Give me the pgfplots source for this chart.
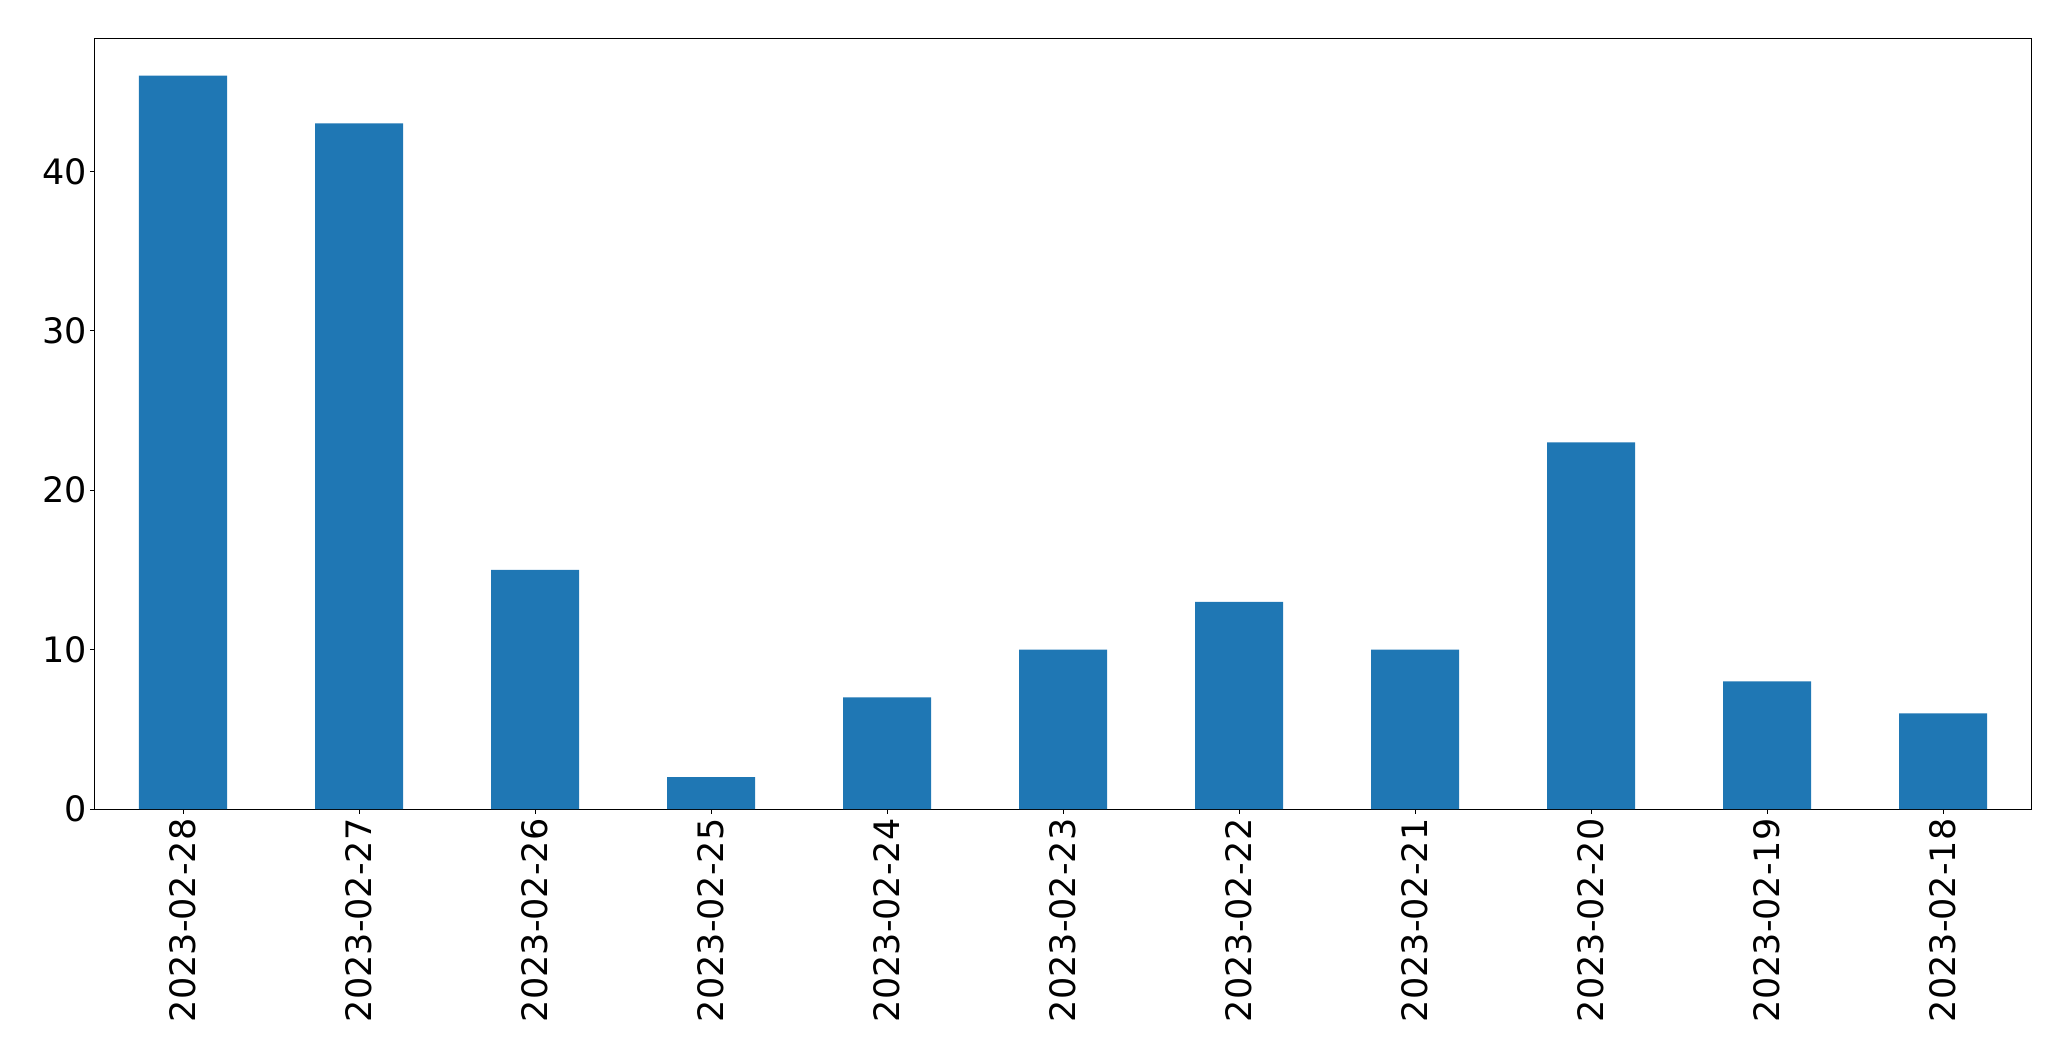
\documentclass[border=0pt]{standalone}
\usepackage{pgfplots}
\pgfplotsset{compat=1.18}
\usepackage{fontspec}
\setmainfont{DejaVu Sans}
\usetikzlibrary{calc}
\definecolor{mplblue}{HTML}{1F77B4}

\begin{document}
\begin{tikzpicture}
\begin{axis}[
    scale only axis,
    width=968pt, height=385pt,
    xmin=-0.5, xmax=10.5,
    ymin=0, ymax=48.3,
    ytick={0,10,20,30,40},
    xtick={0,...,10},
    xticklabels={2023-02-28,2023-02-27,2023-02-26,2023-02-25,2023-02-24,2023-02-23,2023-02-22,2023-02-21,2023-02-20,2023-02-19,2023-02-18},
    xticklabel style={rotate=90, anchor=east, inner sep=2.2pt},
    yticklabel style={inner sep=1.5pt},
    tick label style={font=\fontsize{17.5}{21}\selectfont},
    /pgf/number format/assume math mode=true,
    tick align=outside,
    major tick length=2.4pt,
    tick style={black, line width=0.4pt},
    xtick pos=bottom, ytick pos=left,
    axis line style={line width=0.5pt},
    ybar, bar width=0.5,
]
\addplot[fill=mplblue, draw=none] coordinates {
    (0,46)(1,43)(2,15)(3,2)(4,7)(5,10)(6,13)(7,10)(8,23)(9,8)(10,6)
};
\end{axis}
\useasboundingbox ($(current axis.south west)+(-47.5pt,-126pt)$) rectangle ($(current axis.north east)+(20pt,19.5pt)$);
\end{tikzpicture}
\end{document}
